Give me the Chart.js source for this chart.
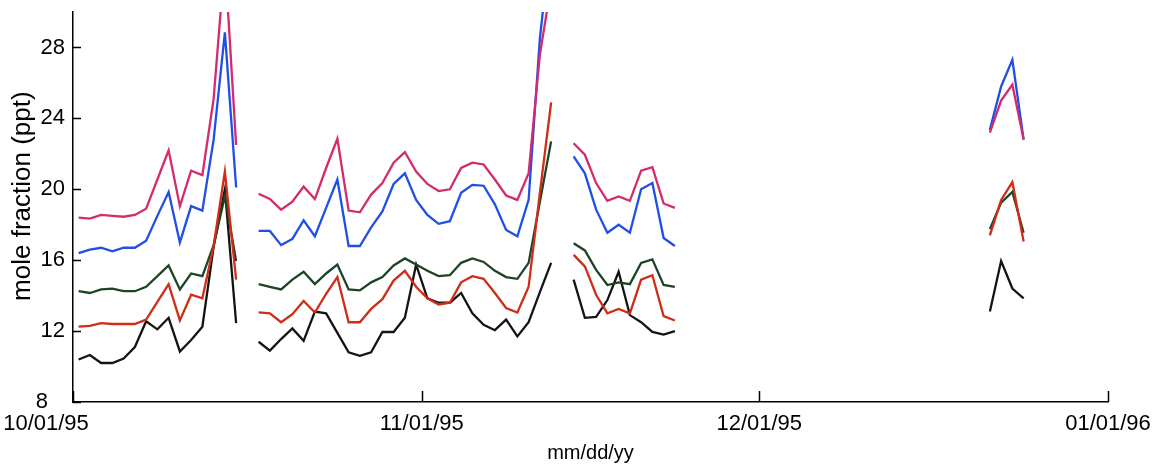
<!DOCTYPE html>
<html lang="en">
<head>
    <meta charset="UTF-8">
    <title>Mole fraction, 10/01/95 - 01/01/96</title>
    <script src="https://cdn.jsdelivr.net/npm/chart.js"></script>
    <style>
        body {
            margin: 0;
            padding: 0;
            background-color: #ffffff;
        }
        canvas {
            display: block;
        }
    </style>
</head>
<body>
    <canvas id="moleChart" width="1158" height="465"></canvas>

    <script>
        // days since 10/01/95 (one sample per day, taken around midday)
        // days 15, 43 and 54 have no sample: they break the lines
        const sampleDays = [
            0, 1, 2, 3, 4, 5, 6, 7, 8, 9, 10, 11, 12, 13, 14,
            15,
            16, 17, 18, 19, 20, 21, 22, 23, 24, 25, 26, 27, 28, 29, 30,
            31, 32, 33, 34, 35, 36, 37, 38, 39, 40, 41, 42,
            43,
            44, 45, 46, 47, 48, 49, 50, 51, 52, 53,
            54,
            81, 82, 83, 84
        ];

        const pinkSeries = [
            18.4, 18.35, 18.55, 18.5, 18.45, 18.55, 18.9, 20.55, 22.2, 19.05, 21.05, 20.8, 25.1, 33.0, 22.5,
            null,
            19.75, 19.45, 18.85, 19.3, 20.15, 19.45, 21.2, 22.85, 18.8, 18.7, 19.7, 20.35, 21.5, 22.1, 21.0,
            20.3, 19.9, 20.0, 21.2, 21.5, 21.4, 20.55, 19.65, 19.4, 20.9, 27.6, 31.5,
            null,
            22.6, 21.95, 20.35, 19.35, 19.6, 19.35, 21.05, 21.25, 19.2, 18.95,
            null,
            23.2, 25.0, 25.9, 22.8
        ];

        const blueSeries = [
            16.4, 16.6, 16.7, 16.5, 16.7, 16.7, 17.1, 18.5, 19.85, 17.0, 19.05, 18.8, 22.8, 28.85, 20.1,
            null,
            17.65, 17.65, 16.85, 17.2, 18.25, 17.35, 18.95, 20.55, 16.8, 16.8, 17.85, 18.75, 20.3, 20.9, 19.4,
            18.55, 18.05, 18.2, 19.8, 20.25, 20.2, 19.15, 17.7, 17.35, 19.4, 28.5, 34.3,
            null,
            21.85, 20.9, 18.85, 17.55, 18.0, 17.55, 20.0, 20.35, 17.25, 16.8,
            null,
            23.35, 25.8, 27.3, 22.8
        ];

        const greenSeries = [
            14.25, 14.15, 14.35, 14.4, 14.25, 14.25, 14.5, 15.1, 15.7, 14.35, 15.25, 15.1, 16.85, 19.6, 15.95,
            null,
            14.65, 14.5, 14.35, 14.9, 15.35, 14.65, 15.25, 15.75, 14.35, 14.3, 14.75, 15.05, 15.7, 16.1, 15.75,
            15.4, 15.1, 15.15, 15.85, 16.1, 15.9, 15.4, 15.05, 14.95, 15.85, 19.3, 22.7,
            null,
            16.95, 16.55, 15.45, 14.6, 14.75, 14.65, 15.85, 16.05, 14.6, 14.5,
            null,
            17.75, 19.25, 19.85, 17.55
        ];

        const redSeries = [
            12.25, 12.3, 12.45, 12.4, 12.4, 12.4, 12.65, 13.65, 14.65, 12.6, 14.05, 13.85, 16.8, 21.0, 14.9,
            null,
            13.05, 13.0, 12.5, 12.95, 13.7, 13.05, 14.1, 15.05, 12.5, 12.5, 13.25, 13.8, 14.85, 15.4, 14.5,
            13.85, 13.5, 13.6, 14.75, 15.1, 14.95, 14.15, 13.3, 13.05, 14.5, 19.8, 24.9,
            null,
            16.3, 15.65, 14.05, 13.0, 13.25, 13.0, 14.9, 15.15, 12.85, 12.6,
            null,
            17.4, 19.4, 20.4, 17.05
        ];

        const blackSeries = [
            10.4, 10.65, 10.2, 10.2, 10.45, 11.1, 12.55, 12.1, 12.75, 10.85, 11.5, 12.25, 16.75, 20.0, 12.45,
            null,
            11.4, 10.9, 11.55, 12.15, 11.45, 13.1, 13.0, 11.9, 10.8, 10.6, 10.8, 11.95, 11.95, 12.75, 15.75,
            13.85, 13.6, 13.6, 14.15, 13.0, 12.35, 12.05, 12.65, 11.7, 12.5, 14.2, 15.85,
            null,
            14.9, 12.75, 12.8, 13.75, 15.35, 12.9, 12.5, 11.95, 11.8, 12.0,
            null,
            13.1, 15.95, 14.4, 13.85
        ];

        // axis ticks
        const xTickDays = [0, 31, 61, 92];
        const xTickLabels = ['10/01/95', '11/01/95', '12/01/95', '01/01/96'];
        const yTickValues = [8, 12, 16, 20, 24, 28];

        const FONT = "'Liberation Sans', Arial, Helvetica, sans-serif";
        const NARROW = "'Liberation Sans Narrow', 'Arial Narrow', sans-serif";

        // the labels of the original are set in a condensed face; fall back to a smaller regular one
        function fontInstalled(family) {
            const c = document.createElement('canvas').getContext('2d');
            c.font = '24px monospace';
            const ref = c.measureText('10/01/95 mm/dd/yy').width;
            c.font = '24px ' + family + ', monospace';
            return c.measureText('10/01/95 mm/dd/yy').width !== ref;
        }
        const haveNarrow = fontInstalled("'Liberation Sans Narrow'");
        const labelFont = haveNarrow ? { family: NARROW, size: 24 } : { family: FONT, size: 22 };
        const xTitleFont = haveNarrow ? { family: NARROW, size: 24 } : { family: FONT, size: 20 };

        function toPoints(values) {
            // samples sit at midday, half a day after the date tick
            return sampleDays.map((d, i) => ({ x: d + 0.5, y: values[i] }));
        }

        function lineSet(label, values, color) {
            return {
                label: label,
                data: toPoints(values),
                borderColor: color,
                backgroundColor: color,
                borderWidth: 2.3,
                pointRadius: 0,
                tension: 0,
                spanGaps: false,
                fill: false
            };
        }

        // ticks on this plot point inwards, Chart.js only draws them outwards
        const inwardTicks = {
            id: 'inwardTicks',
            beforeDraw(chart) {
                // the corner labels ("8" and "10/01/95") sit a little to the left in the original
                const xItems = chart.scales.x.getLabelItems();
                const yItems = chart.scales.y.getLabelItems();
                if (xItems.length && xItems[0].options && xItems[0].options.translation) {
                    xItems[0].options.translation[0] -= 27;
                }
                if (yItems.length && yItems[0].options && yItems[0].options.translation) {
                    yItems[0].options.translation[0] -= 17;
                }
            },
            afterDraw(chart) {
                const ctx = chart.ctx;
                const area = chart.chartArea;
                const xs = chart.scales.x;
                const ys = chart.scales.y;
                ctx.save();
                ctx.strokeStyle = '#000';
                ctx.lineWidth = 1.5;
                ctx.beginPath();
                yTickValues.forEach(v => {
                    const py = Math.round(ys.getPixelForValue(v)) + 0.5;
                    ctx.moveTo(area.left, py);
                    ctx.lineTo(area.left + 8, py);
                });
                xTickDays.forEach(d => {
                    const px = Math.round(xs.getPixelForValue(d)) + 0.5;
                    ctx.moveTo(px, area.bottom);
                    ctx.lineTo(px, area.bottom - 11);
                });
                ctx.stroke();
                ctx.restore();
            }
        };

        const ctx = document.getElementById('moleChart').getContext('2d');

        const chart = new Chart(ctx, {
            type: 'line',
            data: {
                datasets: [
                    lineSet('series 1', pinkSeries, '#d42a6e'),
                    lineSet('series 2', blueSeries, '#1f4fe6'),
                    lineSet('series 3', redSeries, '#cf2d17'),
                    lineSet('series 4', greenSeries, '#1d4424'),
                    lineSet('series 5', blackSeries, '#141414')
                ]
            },
            options: {
                responsive: false,
                animation: false,
                events: [],
                layout: {
                    padding: { top: 12, right: 50, left: 0, bottom: 0 }
                },
                plugins: {
                    legend: { display: false },
                    tooltip: { enabled: false }
                },
                scales: {
                    x: {
                        type: 'linear',
                        min: 0,
                        max: 92,
                        afterBuildTicks: scale => {
                            scale.ticks = xTickDays.map(v => ({ value: v }));
                        },
                        afterFit: scale => {
                            scale.height = 63;
                            scale.paddingLeft = 0;
                            scale.paddingRight = 0;
                        },
                        grid: { display: false, drawTicks: false },
                        border: { display: true, color: '#000', width: 1.5 },
                        ticks: {
                            autoSkip: false,
                            maxRotation: 0,
                            padding: 9,
                            color: '#000',
                            font: labelFont,
                            callback: value => xTickLabels[xTickDays.indexOf(value)]
                        },
                        title: {
                            display: true,
                            text: 'mm/dd/yy',
                            color: '#000',
                            padding: { top: 0, bottom: 0 },
                            font: xTitleFont
                        }
                    },
                    y: {
                        min: 8,
                        max: 30,
                        afterBuildTicks: scale => {
                            scale.ticks = yTickValues.map(v => ({ value: v }));
                        },
                        afterFit: scale => {
                            scale.width = 73;
                            scale.paddingTop = 0;
                            scale.paddingBottom = 0;
                        },
                        grid: { display: false, drawTicks: false },
                        border: { display: true, color: '#000', width: 1.5 },
                        ticks: {
                            padding: 8,
                            color: '#000',
                            font: labelFont
                        },
                        title: {
                            display: true,
                            // leading spaces lift the text a little above the axis centre, as in the original
                            text: '   mole fraction (ppt)',
                            color: '#000',
                            padding: { top: 7, bottom: 0 },
                            font: { family: FONT, size: 26 }
                        }
                    }
                }
            },
            plugins: [inwardTicks]
        });
    </script>
</body>
</html>
